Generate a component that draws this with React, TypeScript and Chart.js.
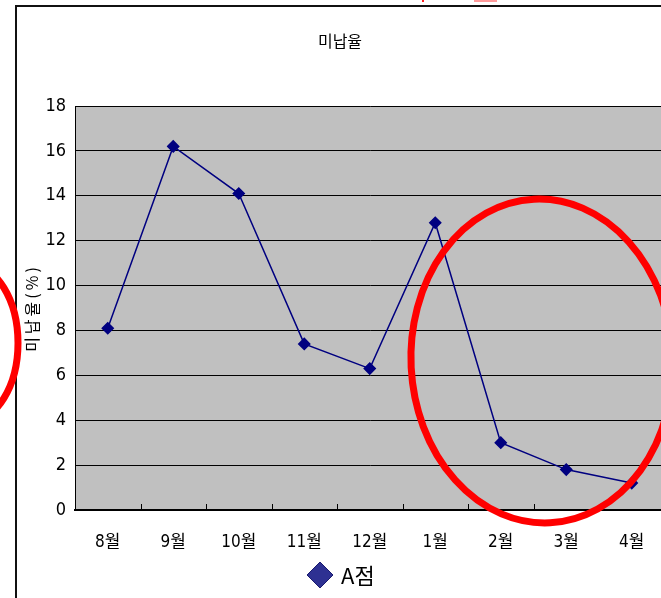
import React, { useEffect, useRef } from "react";
import { Chart, registerables } from "chart.js";

Chart.register(...registerables);

const categories = ["8월", "9월", "10월", "11월", "12월", "1월", "2월", "3월", "4월"];
const values = [8.1, 16.2, 14.1, 7.4, 6.3, 12.8, 3.0, 1.8, 1.2];
const seriesName = "A점";
const chartTitle = "미납율";
const yAxisTitle = "미납율(%)";
const yMin = 0;
const yMax = 18;
const yStep = 2;

const CW = 700;
const CH = 598;
const NARROW = '"Liberation Sans Narrow", "DejaVu Sans Condensed", "Noto Sans CJK KR", sans-serif';
const KFONT = '"Noto Sans CJK KR", "DejaVu Sans", sans-serif';

const overlay = {
  id: "overlay",
  beforeDraw(chart: any) {
    const { ctx, chartArea: a } = chart;
    ctx.save();
    ctx.fillStyle = "#ffffff";
    ctx.fillRect(0, 0, chart.width, chart.height);
    ctx.fillStyle = "#C0C0C0";
    ctx.fillRect(a.left, a.top, a.right - a.left, a.bottom - a.top);
    ctx.restore();
  },
  afterDatasetsDraw(chart: any) {
    const { ctx, chartArea: a } = chart;
    const xs = chart.scales.x;
    ctx.save();
    ctx.strokeStyle = "#000";
    ctx.lineWidth = 1;
    for (let i = 1; i < categories.length; i++) {
      const x = Math.round((xs.getPixelForTick(i - 1) + xs.getPixelForTick(i)) / 2) + 0.5;
      ctx.beginPath();
      ctx.moveTo(x, a.bottom);
      ctx.lineTo(x, a.bottom - 6);
      ctx.stroke();
    }
    ctx.restore();
  },
  afterDraw(chart: any) {
    const { ctx, chartArea: a } = chart;
    ctx.save();
    // outer chart border
    ctx.strokeStyle = "#111";
    ctx.lineWidth = 2;
    ctx.strokeRect(16, 6, CW, CH);

    // title
    ctx.fillStyle = "#000";
    ctx.font = `16px ${KFONT}`;
    ctx.textAlign = "center";
    ctx.textBaseline = "middle";
    ctx.fillText(chartTitle, 340, 41);

    // y axis title
    ctx.save();
    ctx.translate(32, (a.top + a.bottom) / 2);
    ctx.rotate(-Math.PI / 2);
    ctx.font = `16px ${KFONT}`;
    (ctx as any).letterSpacing = "3px";
    ctx.textAlign = "center";
    ctx.textBaseline = "middle";
    ctx.fillText(yAxisTitle, 0, 0);
    ctx.restore();

    // legend
    const lx = 320;
    const ly = 575;
    ctx.beginPath();
    ctx.moveTo(lx - 13, ly);
    ctx.lineTo(lx, ly - 13);
    ctx.lineTo(lx + 13, ly);
    ctx.lineTo(lx, ly + 13);
    ctx.closePath();
    ctx.fillStyle = "#2E3192";
    ctx.fill();
    ctx.strokeStyle = "#1a1a70";
    ctx.lineWidth = 1;
    ctx.stroke();
    ctx.fillStyle = "#000";
    ctx.font = `22px ${KFONT}`;
    ctx.textAlign = "left";
    ctx.textBaseline = "middle";
    ctx.fillText(seriesName, lx + 21, ly + 1);

    // red annotation ellipses
    ctx.strokeStyle = "#FF0000";
    ctx.lineWidth = 7;
    ctx.beginPath();
    ctx.ellipse(542, 361, 131, 162, -0.05, 0, Math.PI * 2);
    ctx.stroke();
    ctx.beginPath();
    ctx.ellipse(-30, 343, 48, 78, 0, 0, Math.PI * 2);
    ctx.stroke();

    // cut-off red fragments at top edge
    ctx.fillStyle = "#FF2020";
    ctx.fillRect(422, 0, 2, 2);
    ctx.fillStyle = "#FF9A9A";
    ctx.fillRect(474, 0, 23, 2);
    ctx.restore();
  },
};

export default function App() {
  const ref = useRef<HTMLCanvasElement | null>(null);
  useEffect(() => {
    if (!ref.current) return;
    const chart = new Chart(ref.current, {
      type: "line",
      data: {
        labels: categories,
        datasets: [
          {
            label: seriesName,
            data: values,
            borderColor: "#000080",
            backgroundColor: "#000080",
            borderWidth: 1.5,
            pointStyle: "rectRot",
            pointRadius: 5.5,
            pointBackgroundColor: "#000080",
            pointBorderColor: "#000080",
            tension: 0,
          },
        ],
      },
      options: {
        responsive: false,
        animation: false,
        layout: { padding: { top: 106, right: CW - 664.5, left: 0, bottom: 0 } },
        plugins: {
          legend: { display: false },
          title: { display: false },
          tooltip: { enabled: false },
        },
        scales: {
          x: {
            offset: true,
            afterFit: (s: any) => {
              s.height = CH - 510;
            },
            grid: { display: false, drawTicks: false },
            border: { display: true, color: "#000", width: 2 },
            ticks: {
              color: "#000",
              padding: 22,
              font: { family: NARROW, size: 17 },
              maxRotation: 0,
              autoSkip: false,
            },
          },
          y: {
            min: yMin,
            max: yMax,
            afterFit: (s: any) => {
              s.width = 75;
            },
            grid: { color: "#000", lineWidth: 1, drawTicks: false },
            border: { display: true, color: "#000", width: 1 },
            ticks: {
              stepSize: yStep,
              color: "#000",
              padding: 9,
              font: { family: NARROW, size: 18 },
            },
          },
        },
      },
      plugins: [overlay],
    });
    return () => chart.destroy();
  }, []);
  return (
    <div
      style={{
        position: "fixed",
        left: 0,
        top: 0,
        width: 661,
        height: 598,
        overflow: "hidden",
        background: "#fff",
      }}
    >
      <canvas ref={ref} width={CW} height={CH} style={{ width: CW, height: CH, display: "block" }} />
    </div>
  );
}
